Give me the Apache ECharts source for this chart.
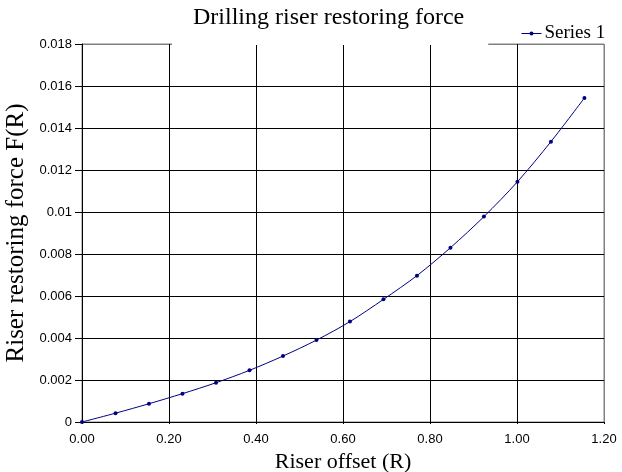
<!DOCTYPE html>
<html>
<head>
<meta charset="utf-8">
<script src="https://cdn.jsdelivr.net/npm/echarts@6/dist/echarts.min.js"></script>
<style>html,body{margin:0;padding:0;background:#fff;}#c{width:622px;height:472px;}</style>
</head>
<body>
<div id="c"></div>
<script>
const titleText = 'Drilling riser restoring force';
const seriesName = 'Series 1';
const xName = 'Riser offset (R)';
const yName = 'Riser restoring force F(R)';
const offsets = [0, 0.077, 0.154, 0.231, 0.308, 0.385, 0.462, 0.539, 0.616, 0.693, 0.770, 0.847, 0.924, 1.001, 1.078, 1.155];
const forces = [0, 0.00042, 0.00087, 0.00135, 0.00187, 0.00246, 0.00314, 0.0039, 0.00478, 0.00584, 0.00697, 0.0083, 0.00978, 0.01144, 0.01335, 0.01543];
const yTickLabels = ['0', '0.002', '0.004', '0.006', '0.008', '0.01', '0.012', '0.014', '0.016', '0.018'];
const xTickLabels = ['0.00', '0.20', '0.40', '0.60', '0.80', '1.00', '1.20'];

const chart = echarts.init(document.getElementById('c'), null, {renderer: 'canvas'});
const serif = '"Liberation Serif", "Times New Roman", serif';
const sans = '"Liberation Sans", Arial, sans-serif';
chart.setOption({
  animation: false,
  backgroundColor: '#fff',
  title: {
    text: titleText,
    left: 172, top: 0,
    padding: [6, 24, 15, 21],
    backgroundColor: '#fff',
    textStyle: {fontFamily: serif, fontSize: 24, fontWeight: 'normal', color: '#000', lineHeight: 24}
  },
  legend: {
    data: [{name: seriesName, itemStyle: {color: '#000080'}, lineStyle: {width: 1, color: '#000080'}}],
    left: 516, top: 19,
    itemWidth: 20, itemHeight: 5, itemGap: 4,
    textStyle: {fontFamily: serif, fontSize: 19, color: '#000', padding: [0,0,0,-2]}
  },
  grid: {
    left: 82, right: 18, top: 44, bottom: 50,
    outerBoundsMode: 'none', containLabel: false,
    show: true, borderColor: '#808080', borderWidth: 1, backgroundColor: 'transparent'
  },
  xAxis: {
    type: 'value', min: 0, max: 1.2, interval: 0.2,
    name: xName, nameLocation: 'middle', nameGap: 25,
    nameTextStyle: {fontFamily: serif, fontSize: 22, color: '#000'},
    axisLine: {show: true, onZero: false, lineStyle: {color: '#000', width: 1}},
    axisTick: {show: true, length: 2, lineStyle: {color: '#000'}},
    axisLabel: {fontFamily: sans, fontSize: 13, color: '#000', margin: 11,
      formatter: (v) => xTickLabels[Math.round(v / 0.2)]},
    splitLine: {show: true, lineStyle: {color: ['#000','#000','#000','#000','#000','#000','#808080'], width: 1}}
  },
  yAxis: {
    type: 'value', min: 0, max: 0.018, interval: 0.002,
    name: yName, nameLocation: 'middle', nameGap: 46,
    nameTextStyle: {fontFamily: serif, fontSize: 25, color: '#000'},
    axisLine: {show: true, onZero: false, lineStyle: {color: '#000', width: 1}},
    axisTick: {show: true, length: 7, lineStyle: {color: '#000'}},
    axisLabel: {fontFamily: sans, fontSize: 13, color: '#000', margin: 10,
      formatter: (v) => yTickLabels[Math.round(v / 0.002)]},
    splitLine: {show: true, lineStyle: {color: ['#000','#000','#000','#000','#000','#000','#000','#000','#000','#808080'], width: 1}}
  },
  series: [{
    name: seriesName,
    type: 'line',
    data: offsets.map((x, i) => [x, forces[i]]),
    smooth: 0.3,
    symbol: 'circle', symbolSize: 4,
    lineStyle: {color: '#000080', width: 1},
    itemStyle: {color: '#000080'}
  }]
});
</script>
</body>
</html>
